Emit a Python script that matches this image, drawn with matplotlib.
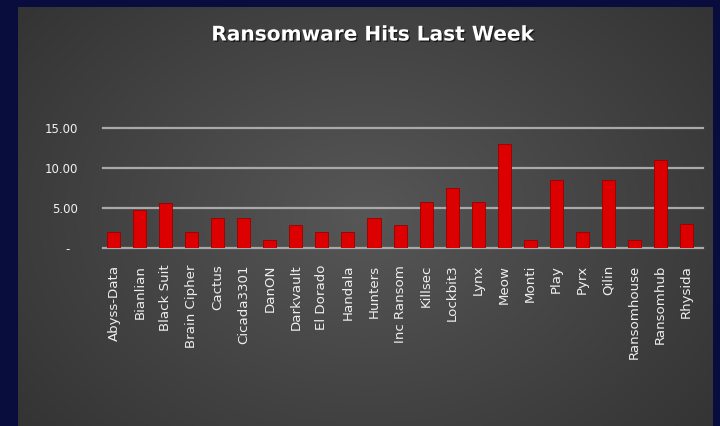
import matplotlib
matplotlib.use('Agg')
import matplotlib.pyplot as plt
import matplotlib.patheffects as pe
import numpy as np

# data
groups = ['Abyss-Data', 'Bianlian', 'Black Suit', 'Brain Cipher', 'Cactus', 'Cicada3301',
          'DanON', 'Darkvault', 'El Dorado', 'Handala', 'Hunters', 'Inc Ransom', 'Killsec',
          'Lockbit3', 'Lynx', 'Meow', 'Monti', 'Play', 'Pyrx', 'Qilin', 'Ransomhouse',
          'Ransomhub', 'Rhysida']
hits = [2, 4.7, 5.6, 2, 3.8, 3.8, 1, 2.9, 2, 2, 3.8, 2.9, 5.7,
        7.5, 5.7, 13, 1, 8.5, 2, 8.5, 1, 11, 3]
yticks = [0, 5, 10, 15]
ytick_labels = ['-  ', '5.00', '10.00', '15.00']

W, H = 720, 426
fig = plt.figure(figsize=(W / 100, H / 100), dpi=100, facecolor='#080d3d')

# gray panel with a soft radial gradient
bg = fig.add_axes([18 / W, 0, (713 - 18) / W, (H - 7) / H])
gx, gy = np.meshgrid(np.linspace(-1, 1, 400), np.linspace(-1, 1, 240))
r = np.sqrt((gx * 1.0) ** 2 + (gy * 0.8) ** 2)
shade = 0.34 - 0.15 * np.clip(r, 0, 1.4) / 1.4
bg.imshow(np.dstack([shade, shade, shade]), aspect='auto', extent=[0, 1, 0, 1])
bg.set_axis_off()

ax = fig.add_axes([103 / W, 1 - 248 / H, 600 / W, 120 / H])
ax.patch.set_alpha(0)

x = np.arange(len(groups))
ax.bar(x, hits, width=0.5, color='#dd0000', edgecolor='#9a0000', linewidth=0.6, zorder=3)

ax.set_ylim(0, 15)
ax.set_xlim(-0.42, 22.65)
ax.set_yticks(yticks)
ax.set_yticklabels(ytick_labels)
ax.set_xticks(x)
ax.set_xticklabels(groups, rotation=90, fontsize=9.6, color='#eeeeee')
for t in ax.get_yticklabels():
    t.set_color('#f2f2f2')
    t.set_fontsize(8.5)
ax.tick_params(axis='y', length=0, pad=18)
ax.tick_params(axis='x', length=0, pad=12)
ax.grid(axis='y', color='#a9a9a9', linewidth=1.6, zorder=1)
for gl in ax.get_ygridlines():
    gl.set_clip_on(False)
for s in ax.spines.values():
    s.set_visible(False)

fig.text(373 / W, 1 - 35 / H, 'Ransomware Hits Last Week', ha='center', va='center',
         fontsize=14.5, fontweight='bold', color='white',
         path_effects=[pe.withSimplePatchShadow(offset=(1, -1), shadow_rgbFace='black', alpha=0.6)])

fig.savefig('out.png', dpi=100, facecolor=fig.get_facecolor())
